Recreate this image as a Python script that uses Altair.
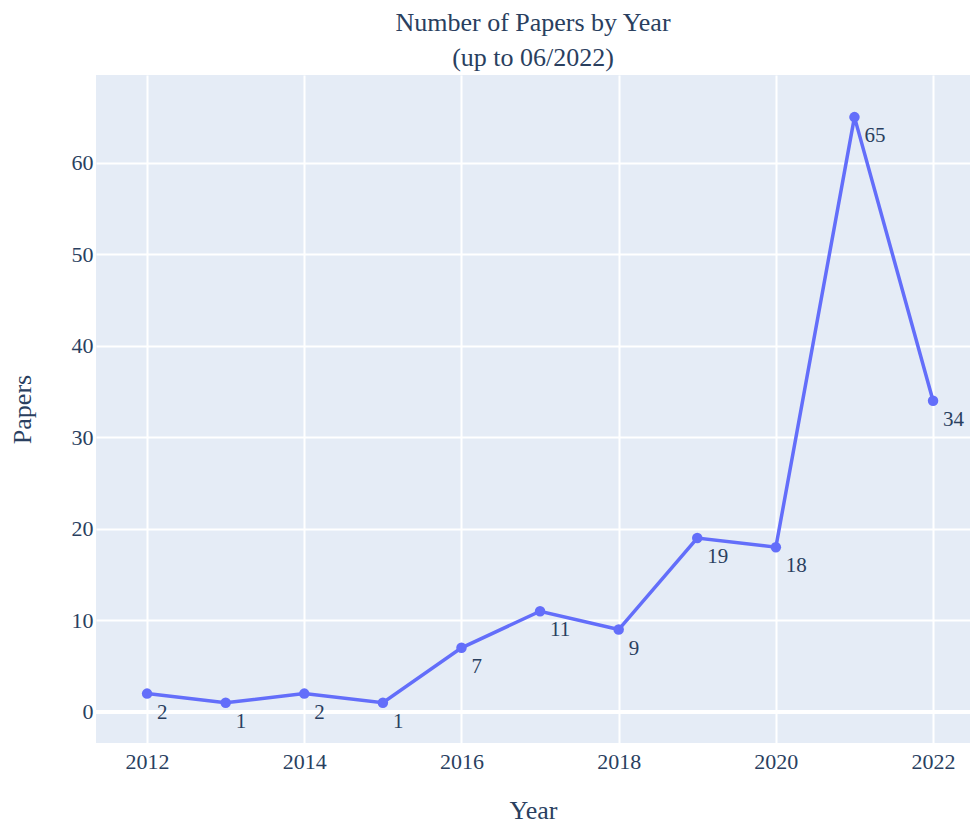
import altair as alt
import pandas as pd

years = [2012, 2013, 2014, 2015, 2016, 2017, 2018, 2019, 2020, 2021, 2022]
papers = [2, 1, 2, 1, 7, 11, 9, 19, 18, 65, 34]
x_ticks = [2012, 2014, 2016, 2018, 2020, 2022]
y_ticks = [0, 10, 20, 30, 40, 50, 60]

df = pd.DataFrame({"Year": years, "Papers": papers})

FONT = "Liberation Serif"
TXT = "#2a3f5f"
LINE = "#636efa"

x = alt.X("Year:Q", scale=alt.Scale(domain=[2011.35, 2022.47], nice=False, zero=False),
          axis=alt.Axis(values=x_ticks, format="d", title="Year", grid=True,
                        labelPadding=8, titlePadding=25))
y = alt.Y("Papers:Q", scale=alt.Scale(domain=[-3.4, 69.6], nice=False, zero=False),
          axis=alt.Axis(values=y_ticks, title="Papers", grid=True,
                        labelPadding=3, titlePadding=36))

base = alt.Chart(df)

zero = alt.Chart(df).mark_rule(color="white", strokeWidth=3.5).encode(y=alt.datum(0))

line = base.mark_line(color=LINE, strokeWidth=3.5).encode(x=x, y=y)
pts = base.mark_circle(color=LINE, size=110, opacity=1).encode(x="Year:Q", y="Papers:Q")
labels = base.mark_text(align="left", baseline="middle", dx=10, dy=19,
                        font=FONT, fontSize=21, color=TXT).encode(
    x="Year:Q", y="Papers:Q", text="Papers:Q")

chart = alt.layer(zero, line, pts, labels).properties(
    width=874, height=668,
    background="white",
    title=alt.TitleParams(text=["Number of Papers by Year", "(up to 06/2022)"],
                          font=FONT, fontSize=26, fontWeight="normal", color=TXT,
                          anchor="middle", lineHeight=35, offset=4),
    autosize=alt.AutoSizeParams(type="none"),
    padding={"left": 88, "top": 67, "right": 1, "bottom": 82},
).configure_view(fill="#E5ECF6", stroke=None).configure_axis(
    domain=False, ticks=False, gridColor="white", gridWidth=2,
    labelFont=FONT, labelFontSize=22, labelColor=TXT,
    titleFont=FONT, titleFontSize=26, titleFontWeight="normal", titleColor=TXT,
)

chart.save("out.html", embed_options={"renderer": "svg", "actions": False})
